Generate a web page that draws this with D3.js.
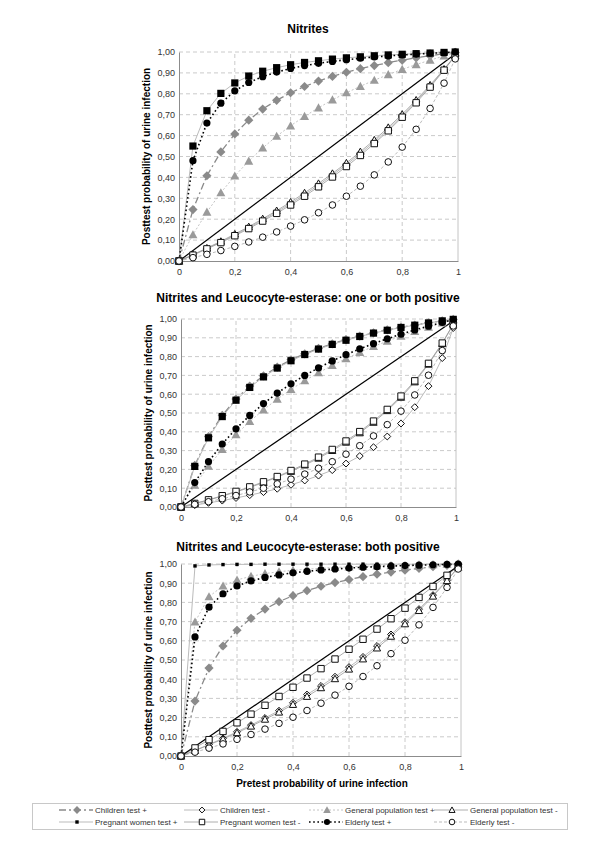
<!DOCTYPE html>
<html><head><meta charset="utf-8">
<script src="https://cdn.jsdelivr.net/npm/d3@7"></script>
<style>body{margin:0;background:#fff}svg{display:block}text{font-family:"Liberation Sans",Arial,sans-serif}</style>
</head><body><svg id="c" width="600" height="849"></svg>
<script>
const pretest = [0,0.05,0.1,0.15,0.2,0.25,0.3,0.35,0.4,0.45,0.5,0.55,0.6,0.65,0.7,0.75,0.8,0.85,0.9,0.95,0.99];
const diagonal = [0,0.99];
const yTicks = [0,0.1,0.2,0.3,0.4,0.5,0.6,0.7,0.8,0.9,1];
const xTicks = [0,0.2,0.4,0.6,0.8,1];
const chartTitles = ["Nitrites","Nitrites and Leucocyte-esterase: one or both positive","Nitrites and Leucocyte-esterase: both positive"];
const seriesLabels = ["Children test +","Children test -","General population test +","General population test -","Pregnant women test +","Pregnant women test -","Elderly test +","Elderly test -"];

// Nitrites
const nitChildPos = [0,0.246,0.408,0.522,0.608,0.674,0.727,0.769,0.805,0.835,0.861,0.883,0.903,0.920,0.935,0.949,0.961,0.972,0.982,0.992,0.998];
const nitChildNeg = [0,0.029,0.060,0.091,0.125,0.160,0.196,0.235,0.275,0.318,0.363,0.411,0.461,0.514,0.571,0.631,0.695,0.764,0.837,0.915,0.983];
const nitGenPos = [0,0.126,0.234,0.327,0.407,0.478,0.541,0.597,0.647,0.692,0.733,0.771,0.805,0.836,0.865,0.892,0.917,0.940,0.961,0.981,0.996];
const nitGenNeg = [0,0.030,0.062,0.094,0.129,0.164,0.202,0.241,0.282,0.326,0.371,0.419,0.469,0.523,0.579,0.639,0.702,0.770,0.842,0.918,0.983];
const nitPregPos = [0,0.550,0.719,0.802,0.852,0.885,0.908,0.925,0.939,0.950,0.958,0.966,0.972,0.977,0.982,0.986,0.989,0.992,0.995,0.998,1.000];
const nitPregNeg = [0,0.028,0.058,0.088,0.121,0.155,0.191,0.228,0.268,0.310,0.355,0.402,0.452,0.505,0.562,0.623,0.688,0.757,0.832,0.913,0.982];
const nitEldPos = [0,0.480,0.660,0.755,0.814,0.854,0.882,0.904,0.921,0.935,0.946,0.955,0.963,0.970,0.976,0.981,0.986,0.990,0.994,0.997,0.999];
const nitEldNeg = [0,0.016,0.032,0.050,0.070,0.091,0.114,0.139,0.167,0.197,0.231,0.268,0.310,0.358,0.412,0.474,0.545,0.630,0.730,0.851,0.967];

// One or both positive
const oneChildPos = [0,0.221,0.375,0.488,0.574,0.643,0.698,0.744,0.783,0.815,0.844,0.868,0.890,0.909,0.926,0.942,0.956,0.968,0.980,0.990,0.998];
const oneChildNeg = [0,0.010,0.022,0.034,0.048,0.063,0.079,0.097,0.118,0.141,0.167,0.196,0.231,0.271,0.318,0.375,0.444,0.531,0.643,0.792,0.952];
const oneGenPos = [0,0.116,0.217,0.306,0.385,0.455,0.517,0.574,0.625,0.672,0.714,0.753,0.789,0.823,0.854,0.882,0.909,0.934,0.957,0.979,0.996];
const oneGenNeg = [0,0.018,0.037,0.058,0.080,0.104,0.130,0.159,0.189,0.223,0.259,0.300,0.344,0.394,0.450,0.512,0.583,0.665,0.759,0.869,0.972];
const onePregPos = [0,0.216,0.368,0.481,0.568,0.636,0.692,0.739,0.778,0.811,0.840,0.865,0.887,0.907,0.925,0.940,0.955,0.967,0.979,0.990,0.998];
const onePregNeg = [0,0.019,0.038,0.060,0.083,0.107,0.134,0.162,0.194,0.228,0.265,0.306,0.351,0.401,0.457,0.519,0.590,0.671,0.764,0.872,0.973];
const oneEldPos = [0,0.130,0.241,0.335,0.416,0.487,0.550,0.606,0.655,0.700,0.740,0.777,0.810,0.841,0.869,0.895,0.919,0.942,0.962,0.982,0.996];
const oneEldNeg = [0,0.014,0.028,0.044,0.061,0.080,0.100,0.123,0.148,0.175,0.206,0.241,0.281,0.326,0.378,0.438,0.510,0.596,0.701,0.832,0.963];

// Both positive
const bothChildPos = [0,0.286,0.458,0.573,0.655,0.717,0.765,0.804,0.835,0.861,0.884,0.903,0.919,0.934,0.947,0.958,0.968,0.977,0.986,0.993,0.999];
const bothChildNeg = [0,0.029,0.060,0.092,0.126,0.161,0.198,0.236,0.277,0.320,0.365,0.413,0.463,0.516,0.573,0.633,0.697,0.765,0.838,0.916,0.983];
const bothGenPos = [0,0.698,0.830,0.886,0.917,0.936,0.950,0.960,0.967,0.973,0.978,0.982,0.985,0.988,0.990,0.992,0.994,0.996,0.997,0.999,1.000];
const bothGenNeg = [0,0.028,0.058,0.088,0.121,0.155,0.191,0.228,0.268,0.310,0.355,0.402,0.452,0.505,0.562,0.623,0.688,0.757,0.832,0.913,0.982];
const bothPregPos = [0,0.990,0.995,0.997,0.998,0.998,0.999,0.999,0.999,0.999,0.999,0.999,0.999,0.999,0.999,0.999,0.999,0.999,0.999,0.999,1.000];
const bothPregNeg = [0,0.042,0.085,0.128,0.173,0.218,0.264,0.310,0.358,0.406,0.455,0.505,0.556,0.608,0.661,0.715,0.770,0.826,0.883,0.941,0.988];
const bothEldPos = [0,0.620,0.775,0.845,0.886,0.912,0.930,0.943,0.954,0.962,0.969,0.974,0.979,0.983,0.986,0.989,0.992,0.994,0.996,0.998,1.000];
const bothEldNeg = [0,0.020,0.041,0.063,0.087,0.112,0.140,0.170,0.202,0.237,0.275,0.317,0.363,0.414,0.470,0.533,0.603,0.683,0.774,0.878,0.974];

const styles = [
  {shape:"diamond", fill:"#8a8a8a", stroke:"none", r:4, line:"#8a8a8a", dash:"7,3,2,3", lw:1.3},
  {shape:"diamond", fill:"#fff", stroke:"#111", r:3, line:"#a8a8a8", dash:null, lw:0.8},
  {shape:"triangle", fill:"#9a9a9a", stroke:"none", r:4.5, line:"#c4c4c4", dash:"2,2", lw:1},
  {shape:"triangle", fill:"#fff", stroke:"#111", r:3.6, line:"#999", dash:null, lw:0.8},
  {shape:"square", fill:"#000", stroke:"none", r:3.6, line:"#bbb", dash:null, lw:1},
  {shape:"square", fill:"#fff", stroke:"#111", r:3.2, line:"#999", dash:null, lw:0.8},
  {shape:"circle", fill:"#000", stroke:"none", r:3.6, line:"#000", dash:"1.6,2.6", lw:1.6},
  {shape:"circle", fill:"#fff", stroke:"#111", r:3.3, line:"#aaa", dash:"3,2", lw:0.8}
];

const charts = [
  {title:chartTitles[0], series:[nitChildPos,nitChildNeg,nitGenPos,nitGenNeg,nitPregPos,nitPregNeg,nitEldPos,nitEldNeg], x0:179, x1:458, y0:261, y1:52, ty:33, pregR:3.6},
  {title:chartTitles[1], series:[oneChildPos,oneChildNeg,oneGenPos,oneGenNeg,onePregPos,onePregNeg,oneEldPos,oneEldNeg], x0:181, x1:456, y0:507, y1:319, ty:302, pregR:3.6},
  {title:chartTitles[2], series:[bothChildPos,bothChildNeg,bothGenPos,bothGenNeg,bothPregPos,bothPregNeg,bothEldPos,bothEldNeg], x0:181, x1:461, y0:756, y1:564, ty:551, pregR:1.7}
];

const svg = d3.select("#c");
const fmtY = d => d3.format(".2f")(d).replace(".", ",");
const fmtX = d => String(d).replace(".", ",");

function marker(g, shape, x, y, r, fill, stroke) {
  let el;
  if (shape === "circle") {
    el = g.append("circle").attr("cx", x).attr("cy", y).attr("r", r);
  } else {
    let p;
    if (shape === "square") p = `M${x-r},${y-r}h${2*r}v${2*r}h${-2*r}Z`;
    else if (shape === "diamond") p = `M${x},${y-r*1.15}L${x+r*1.15},${y}L${x},${y+r*1.15}L${x-r*1.15},${y}Z`;
    else p = `M${x},${y-r}L${x+r},${y+r*0.8}L${x-r},${y+r*0.8}Z`;
    el = g.append("path").attr("d", p);
  }
  el.attr("fill", fill).attr("stroke", stroke).attr("stroke-width", stroke === "none" ? 0 : 1);
}

charts.forEach(c => {
  const x = d3.scaleLinear().domain([0,1]).range([c.x0, c.x1]);
  const y = d3.scaleLinear().domain([0,1]).range([c.y0, c.y1]);
  const g = svg.append("g");
  g.selectAll(".hg").data(yTicks.slice(1)).join("line")
    .attr("x1", c.x0).attr("x2", c.x1).attr("y1", d => y(d)).attr("y2", d => y(d))
    .attr("stroke", "#bdbdbd").attr("stroke-width", 0.8).attr("stroke-dasharray", "4,3");
  g.selectAll(".vg").data(xTicks.slice(1)).join("line")
    .attr("x1", d => x(d)).attr("x2", d => x(d)).attr("y1", c.y0).attr("y2", c.y1)
    .attr("stroke", d => d === 1 ? "#b5b5b5" : "#bdbdbd").attr("stroke-width", 0.8)
    .attr("stroke-dasharray", d => d === 1 ? null : "4,3");
  const ax = g.append("g").attr("transform", `translate(0,${c.y0})`)
    .call(d3.axisBottom(x).tickValues(xTicks).tickFormat(fmtX).tickSize(0).tickPadding(8));
  const ay = g.append("g").attr("transform", `translate(${c.x0},0)`)
    .call(d3.axisLeft(y).tickValues(yTicks).tickFormat(fmtY).tickSize(0).tickPadding(4));
  [ax, ay].forEach(a => {
    a.select(".domain").attr("stroke", "#8c8c8c").attr("stroke-width", 1);
    a.selectAll("text").attr("font-size", 9).attr("fill", "#333").attr("font-family", "Liberation Sans, Arial, sans-serif");
  });
  g.append("text").attr("x", 308).attr("y", c.ty).attr("text-anchor", "middle")
    .attr("font-size", 12).attr("font-weight", "bold").attr("fill", "#000").text(c.title);
  g.append("text").attr("transform", `translate(${c.x0 - 29},${(c.y0 + c.y1)/2}) rotate(-90)`)
    .attr("text-anchor", "middle").attr("font-size", 10).attr("font-weight", "bold").attr("fill", "#000")
    .text("Posttest probability of urine infection");
  const line = d3.line().x((d,i) => x(pretest[i])).y(d => y(d));
  c.series.forEach((s, i) => {
    const st = styles[i];
    g.append("path").attr("d", line(s)).attr("fill", "none").attr("stroke", st.line)
      .attr("stroke-width", st.lw).attr("stroke-dasharray", st.dash);
  });
  g.append("line").attr("x1", x(diagonal[0])).attr("y1", y(diagonal[0]))
    .attr("x2", x(diagonal[1])).attr("y2", y(diagonal[1])).attr("stroke", "#000").attr("stroke-width", 1.2);
  c.series.forEach((s, i) => {
    const st = styles[i];
    const r = i === 4 ? c.pregR : st.r;
    s.forEach((v, j) => marker(g, st.shape, x(pretest[j]), y(v), r, st.fill, st.stroke));
  });
});

svg.append("text").attr("x", 322).attr("y", 787).attr("text-anchor", "middle")
  .attr("font-size", 10).attr("font-weight", "bold").attr("fill", "#000").text("Pretest probability of urine infection");

const lg = svg.append("g");
lg.append("rect").attr("x", 32.5).attr("y", 803.5).attr("width", 535).attr("height", 26)
  .attr("fill", "#fff").attr("stroke", "#c8c8c8").attr("stroke-width", 1);
const colX = [77, 202, 327, 452];
const rowY = [810, 822];
seriesLabels.forEach((lab, i) => {
  const col = i % 4, row = Math.floor(i / 4);
  const mx = colX[col], my = rowY[row];
  const st = styles[i];
  lg.append("line").attr("x1", mx - 18).attr("x2", mx + 16).attr("y1", my).attr("y2", my)
    .attr("stroke", st.line).attr("stroke-width", st.lw).attr("stroke-dasharray", st.dash);
  marker(lg, st.shape, mx, my, i === 4 ? 1.7 : st.r * 0.85, st.fill, st.stroke);
  lg.append("text").attr("x", mx + 18).attr("y", my + 3).attr("font-size", 8).attr("fill", "#333").text(lab);
});
</script></body></html>
